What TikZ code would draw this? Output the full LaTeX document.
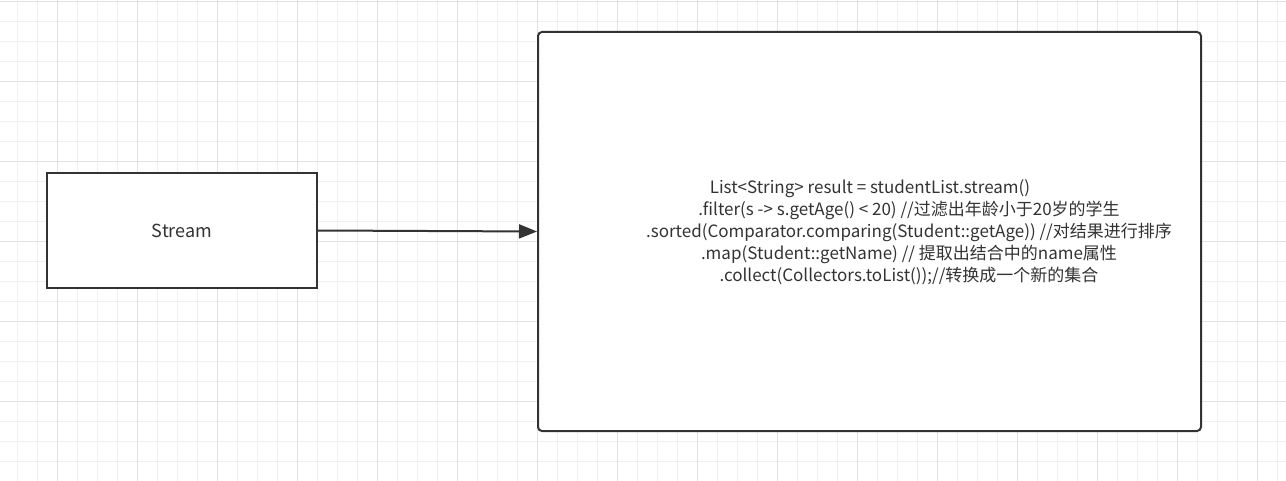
\documentclass[tikz,border=0pt]{standalone}
\usepackage{fontspec}
\setmainfont{Noto Sans CJK SC}
\usetikzlibrary{arrows.meta}
\definecolor{minorGrid}{HTML}{F0F0F0}
\definecolor{majorGrid}{HTML}{E2E2E2}
\definecolor{boxLine}{HTML}{333333}
\definecolor{textGrey}{HTML}{333333}
\tikzset{
	blockbox/.style={draw=boxLine, line width=2pt, fill=white, text=textGrey, inner sep=0pt},
	flowarrow/.style={draw=boxLine, line width=2pt, -{Triangle[length=18pt, width=14pt]}}
}
\begin{document}
\begin{tikzpicture}[x=1pt, y=-1pt]
	\useasboundingbox (0, 0) rectangle (1286, 481);
	\fill[white] (0, 0) rectangle (1286, 481);

	% background grid
	\foreach \gx in {-3, 17, ..., 1290} {
		\draw[minorGrid, line width=1pt] (\gx, 0) -- (\gx, 481);
	}
	\foreach \gy in {1.7, 21.7, ..., 481} {
		\draw[minorGrid, line width=1pt] (0, \gy) -- (1286, \gy);
	}
	\foreach \gx in {57, 137, ..., 1290} {
		\draw[majorGrid, line width=1pt] (\gx, 0) -- (\gx, 481);
	}
	\foreach \gy in {1.7, 81.7, ..., 481} {
		\draw[majorGrid, line width=1pt] (0, \gy) -- (1286, \gy);
	}

	\node[blockbox, minimum width=270pt, minimum height=115pt, font=\fontsize{18}{20}\selectfont] (stream) at (182, 230.5) {Stream};
	\node[blockbox, rounded corners=4pt, minimum width=663pt, minimum height=399pt] (code) at (869.5, 231.5) {};
	\node[text=textGrey, align=center, font=\fontsize{17}{22}\selectfont] (codeText) at (909, 232) {
		List<String> result = studentList.stream()\hspace*{78pt}\\
		.filter(s -> s.getAge() < 20) //过滤出年龄小于20岁的学生\\
		.sorted(Comparator.comparing(Student::getAge)) //对结果进行排序\\
		.map(Student::getName) // 提取出结合中的name属性\\
		.collect(Collectors.toList());//转换成一个新的集合
	};

	\draw[flowarrow] (stream.east) -- (code.west);
\end{tikzpicture}
\end{document}
